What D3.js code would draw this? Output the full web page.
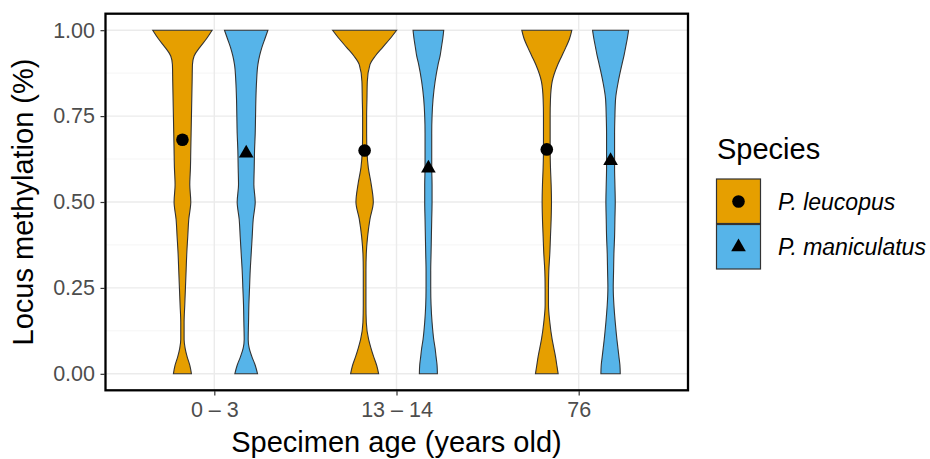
<!DOCTYPE html>
<html>
<head>
<meta charset="utf-8">
<script src="https://cdn.jsdelivr.net/npm/d3@7"></script>
<style>
  body { margin: 0; background: #fff; }
  text { font-family: "Liberation Sans", Arial, Helvetica, sans-serif; }
</style>
</head>
<body>
<svg id="chart" width="930" height="459"></svg>
<script>
// categories and tick labels
var ages = ["0 – 3", "13 – 14", "76"];
var species = ["P. leucopus", "P. maniculatus"];
var colors = ["#E69F00", "#56B4E9"];
var yTicks = [0, 0.25, 0.5, 0.75, 1];
var yMinor = [0.125, 0.375, 0.625, 0.875];

// methylation levels at which the violin densities were read (bottom -> top)
var levels = [0, 0.025, 0.05, 0.075, 0.1, 0.15, 0.2, 0.25, 0.3, 0.35, 0.4, 0.45, 0.5,
              0.55, 0.6, 0.65, 0.7, 0.75, 0.8, 0.85, 0.9, 0.925, 0.95, 0.975, 1];

// density (relative, scaled by count) for each age group
var leucopusDensity = [
  [27, 22, 14, 8, 5, 5, 7, 9, 11, 13, 16, 19, 25, 22, 24, 25, 26, 27, 28, 29, 30, 35, 52, 72, 89],
  [42, 36, 27, 19, 12, 5, 4, 4, 4, 5, 9, 16, 26, 20, 11, 7, 6, 6, 7, 8, 16, 32, 54, 76, 96],
  [34, 30, 26, 21, 16, 9, 5, 5, 6, 9, 11, 13, 14, 13, 11, 10, 10, 10, 11, 16, 33, 45, 57, 68, 75]
];
var maniculatusDensity = [
  [34, 27, 17, 9, 6, 7, 8, 10, 12, 15, 18, 21, 27, 23, 24, 25, 27, 28, 29, 31, 35, 40, 47, 56, 65],
  [27, 26, 23, 20, 16, 11, 8, 7, 7, 8, 9, 10, 11, 11, 10, 10, 10, 11, 14, 20, 29, 35, 39, 43, 46],
  [29, 28, 25, 22, 19, 14, 10, 8, 9, 10, 12, 13, 14, 13, 12, 12, 12, 13, 15, 23, 34, 40, 45, 50, 54]
];

// mean methylation per age group
var leucopusMean = [0.681, 0.650, 0.653];
var maniculatusMean = [0.642, 0.598, 0.620];

var svg = d3.select("#chart"),
    margin = { top: 13, right: 242, bottom: 68, left: 105 },
    width = +svg.attr("width") - margin.left - margin.right,
    height = +svg.attr("height") - margin.top - margin.bottom,
    g = svg.append("g").attr("transform", "translate(" + margin.left + "," + margin.top + ")");

var x = d3.scalePoint()
    .domain(ages)
    .range([0, width])
    .padding(0.6);

var y = d3.scaleLinear()
    .domain([-0.05, 1.05])
    .range([height, 0]);

var dodge = x.step() * 0.175;
var allDens = leucopusDensity.concat(maniculatusDensity);
var w = d3.scaleLinear()
    .domain([0, d3.max(allDens, function(r) { return d3.max(r); })])
    .range([0, x.step() * 0.176]);

// grid
g.selectAll(".minor")
    .data(yMinor)
    .enter().append("line")
    .attr("x1", 0).attr("x2", width)
    .attr("y1", function(d) { return y(d); })
    .attr("y2", function(d) { return y(d); })
    .attr("stroke", "#F2F2F2")
    .attr("stroke-width", 0.8);

g.selectAll(".major")
    .data(yTicks)
    .enter().append("line")
    .attr("x1", 0).attr("x2", width)
    .attr("y1", function(d) { return y(d); })
    .attr("y2", function(d) { return y(d); })
    .attr("stroke", "#EBEBEB")
    .attr("stroke-width", 1.4);

g.selectAll(".vgrid")
    .data(ages)
    .enter().append("line")
    .attr("x1", function(d) { return x(d); })
    .attr("x2", function(d) { return x(d); })
    .attr("y1", 0).attr("y2", height)
    .attr("stroke", "#EBEBEB")
    .attr("stroke-width", 1.4);

// violins
var seriesDens = [leucopusDensity, maniculatusDensity];
var seriesMean = [leucopusMean, maniculatusMean];
var offsets = [-dodge, dodge];

seriesDens.forEach(function(dens, s) {
    ages.forEach(function(age, i) {
        var cx = x(age) + offsets[s];
        var area = d3.area()
            .curve(d3.curveMonotoneY)
            .y(function(d, j) { return y(levels[j]); })
            .x0(function(d) { return cx - w(d); })
            .x1(function(d) { return cx + w(d); });
        g.append("path")
            .attr("d", area(dens[i]))
            .attr("fill", colors[s])
            .attr("stroke", "#333333")
            .attr("stroke-width", 1.1);
    });
});

// mean points
var circle = d3.symbol().type(d3.symbolCircle).size(125);
var tri = d3.symbol().type(d3.symbolTriangle).size(93);
var shapes = [circle, tri];

seriesMean.forEach(function(means, s) {
    g.selectAll(".pt" + s)
        .data(means)
        .enter().append("path")
        .attr("d", shapes[s]())
        .attr("transform", function(d, i) {
            return "translate(" + (x(ages[i]) + offsets[s]) + "," + y(d) + ")";
        })
        .attr("fill", "#000");
});

// panel border
g.append("rect")
    .attr("x", 0.5).attr("y", 0.7)
    .attr("width", width - 0.5).attr("height", height - 1.4)
    .attr("fill", "none")
    .attr("stroke", "#000")
    .attr("stroke-width", 2.3);

// axes
var yAxis = g.append("g")
    .call(d3.axisLeft(y).tickValues(yTicks).tickFormat(d3.format(".2f")).tickSize(4.5).tickPadding(5.5));
var xAxis = g.append("g")
    .attr("transform", "translate(0," + height + ")")
    .call(d3.axisBottom(x).tickSize(4.5).tickPadding(6.5));

[yAxis, xAxis].forEach(function(a) {
    a.select(".domain").remove();
    a.selectAll(".tick line").attr("stroke", "#333333").attr("stroke-width", 1.2);
    a.selectAll(".tick text")
        .attr("fill", "#4D4D4D")
        .style("font-size", "21.5px");
});

// axis titles
svg.append("text")
    .attr("transform", "translate(33," + (margin.top + height / 2) + ") rotate(-90)")
    .attr("text-anchor", "middle")
    .style("font-size", "29px")
    .attr("fill", "#000")
    .text("Locus methylation (%)");

svg.append("text")
    .attr("x", margin.left + width / 2)
    .attr("y", 452)
    .attr("text-anchor", "middle")
    .style("font-size", "29px")
    .attr("fill", "#000")
    .text("Specimen age (years old)");

// legend
var legend = svg.append("g").attr("transform", "translate(716,0)");

legend.append("text")
    .attr("x", 1)
    .attr("y", 159)
    .style("font-size", "29px")
    .text("Species");

species.forEach(function(name, s) {
    var ky = 179 + s * 45.5;
    legend.append("rect")
        .attr("x", 0.5).attr("y", ky)
        .attr("width", 44).attr("height", 44.5)
        .attr("fill", colors[s])
        .attr("stroke", "#333333")
        .attr("stroke-width", 1.2);
    legend.append("path")
        .attr("d", shapes[s]())
        .attr("transform", "translate(22.5," + (ky + 22.5) + ")")
        .attr("fill", "#000");
    legend.append("text")
        .attr("x", 62)
        .attr("y", ky + 22.5)
        .attr("dy", "0.35em")
        .style("font-size", "23px")
        .style("font-style", "italic")
        .text(name);
});
</script>
</body>
</html>
